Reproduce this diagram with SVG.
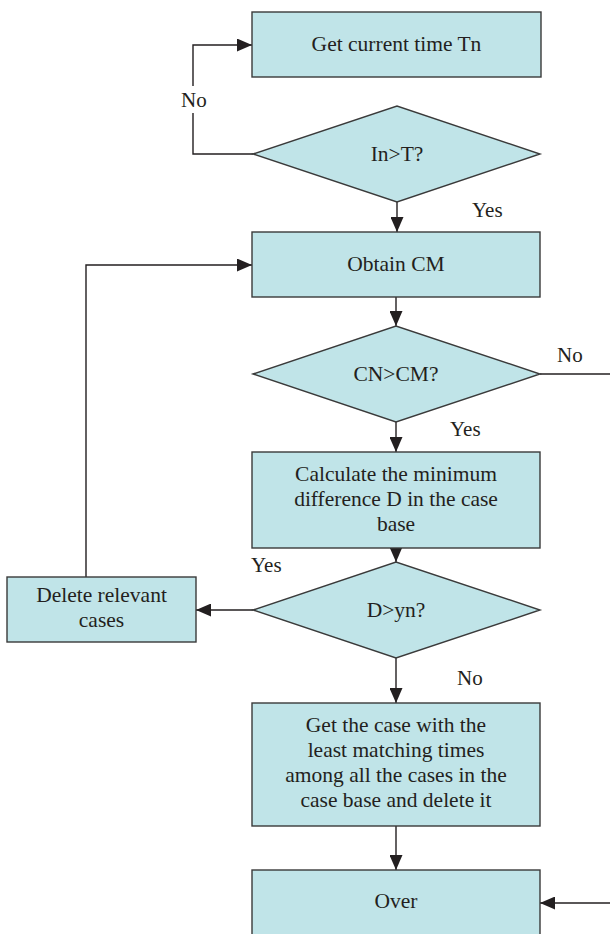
<svg xmlns="http://www.w3.org/2000/svg" width="610" height="934" viewBox="0 0 610 934">
<style>
.box{fill:#c0e4e8;stroke:#3a3a3a;stroke-width:1.4}
.t{font-family:"Liberation Serif","Times New Roman",serif;font-size:21.5px;fill:#231f20;text-anchor:middle}
.lbl{font-family:"Liberation Serif","Times New Roman",serif;font-size:21px;fill:#231f20}
.c{fill:none;stroke:#231f20;stroke-width:1.4}
</style>
<defs>
<marker id="ah" viewBox="0 0 15 13" markerWidth="15" markerHeight="13" refX="15" refY="6.5" orient="auto" markerUnits="userSpaceOnUse">
<path d="M0,0 L15,6.5 L0,13 z" fill="#231f20"/>
</marker>
</defs>
<rect width="610" height="934" fill="#ffffff"/>
<g id="connectors">
<polyline class="c" points="253,154 193,154 193,45 252,45" marker-end="url(#ah)"/>
<line class="c" x1="397" y1="202" x2="397" y2="232" marker-end="url(#ah)"/>
<line class="c" x1="396" y1="297" x2="396" y2="326" marker-end="url(#ah)"/>
<line class="c" x1="540" y1="374" x2="610" y2="374"/>
<line class="c" x1="396" y1="422" x2="396" y2="452" marker-end="url(#ah)"/>
<line class="c" x1="396" y1="548" x2="396" y2="562" marker-end="url(#ah)"/>
<line class="c" x1="253" y1="610" x2="196" y2="610" marker-end="url(#ah)"/>
<polyline class="c" points="86,577 86,265 252,265" marker-end="url(#ah)"/>
<line class="c" x1="396" y1="658" x2="396" y2="703" marker-end="url(#ah)"/>
<line class="c" x1="396" y1="826" x2="396" y2="870" marker-end="url(#ah)"/>
<line class="c" x1="610" y1="903" x2="540" y2="903" marker-end="url(#ah)"/>
<rect x="178" y="86" width="32" height="27" fill="#ffffff"/>
<text class="lbl" x="181" y="107">No</text>
<text class="lbl" x="472" y="217">Yes</text>
<text class="lbl" x="557" y="362">No</text>
<text class="lbl" x="450" y="436">Yes</text>
<text class="lbl" x="251" y="572">Yes</text>
<text class="lbl" x="457" y="685">No</text>
</g>
<g id="get_time">
<rect class="box" x="252" y="12" width="289" height="65"/>
<text class="t" x="396.5" y="51">Get current time Tn</text>
</g>
<g id="in_gt_t">
<polygon class="box" points="253,154 397,106 540,154 397,202"/>
<text class="t" x="397" y="161">In&gt;T?</text>
</g>
<g id="obtain_cm">
<rect class="box" x="252" y="232" width="288" height="65"/>
<text class="t" x="396" y="271">Obtain CM</text>
</g>
<g id="cn_gt_cm">
<polygon class="box" points="253,374 396,326 540,374 396,422"/>
<text class="t" x="396" y="381">CN&gt;CM?</text>
</g>
<g id="calc_d">
<rect class="box" x="252" y="452" width="288" height="96"/>
<text class="t" x="396" y="481">Calculate the minimum</text>
<text class="t" x="396" y="506">difference D in the case</text>
<text class="t" x="396" y="531">base</text>
</g>
<g id="d_gt_yn">
<polygon class="box" points="253,610 396,562 540,610 396,658"/>
<text class="t" x="396" y="617">D&gt;yn?</text>
</g>
<g id="delete_relevant">
<rect class="box" x="7" y="577" width="189" height="65"/>
<text class="t" x="101.5" y="602">Delete relevant</text>
<text class="t" x="101.5" y="627">cases</text>
</g>
<g id="get_least">
<rect class="box" x="252" y="703" width="288" height="123"/>
<text class="t" x="396" y="732">Get the case with the</text>
<text class="t" x="396" y="757">least matching times</text>
<text class="t" x="396" y="782">among all the cases in the</text>
<text class="t" x="396" y="807">case base and delete it</text>
</g>
<g id="over">
<rect class="box" x="252" y="870" width="288" height="70"/>
<text class="t" x="396" y="908">Over</text>
</g>
</svg>
